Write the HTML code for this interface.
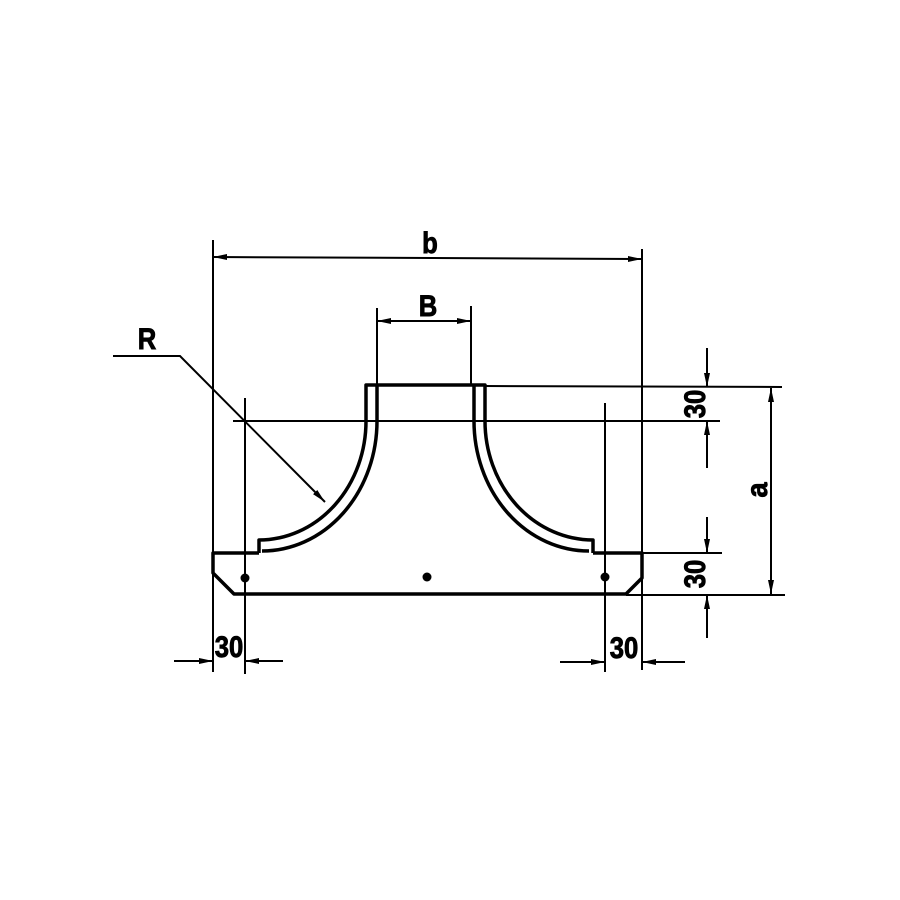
<!DOCTYPE html>
<html><head><meta charset="utf-8"><style>
html,body{margin:0;padding:0;background:#fff;}
svg{display:block}
text{font-family:"Liberation Sans Narrow","Liberation Sans",sans-serif;font-weight:bold;fill:#000;stroke:#000;stroke-width:0.8}
</style></head><body>
<svg width="900" height="900" viewBox="0 0 900 900" xmlns="http://www.w3.org/2000/svg">
<defs>
<marker id="ar" viewBox="0 0 14 6" refX="14" refY="3" markerWidth="14" markerHeight="6" markerUnits="userSpaceOnUse" orient="auto">
<path d="M0,0 L14,3 L0,6 Z" fill="#000"/>
</marker>
</defs>
<g stroke="#000" stroke-width="2" fill="none">
<line x1="213" y1="240" x2="213" y2="672"/>
<line x1="642" y1="249" x2="642" y2="670"/>
<line x1="377" y1="308" x2="377" y2="386"/>
<line x1="471" y1="306" x2="471" y2="386"/>
<line x1="245" y1="398" x2="245" y2="674"/>
<line x1="605" y1="403" x2="605" y2="672"/>
<line x1="233" y1="421" x2="720" y2="421"/>
<line x1="485" y1="386" x2="782" y2="387"/>
<line x1="642" y1="553" x2="722" y2="553"/>
<line x1="626" y1="595" x2="785" y2="595"/>
<line x1="213" y1="257" x2="642" y2="259"/>
<line x1="377" y1="321" x2="471" y2="321"/>
<line x1="771" y1="388" x2="771" y2="594"/>
<line x1="707" y1="348" x2="707" y2="387" marker-end="url(#ar)"/>
<line x1="707" y1="468" x2="707" y2="421" marker-end="url(#ar)"/>
<line x1="707" y1="517" x2="707" y2="553" marker-end="url(#ar)"/>
<line x1="707" y1="638" x2="707" y2="595" marker-end="url(#ar)"/>
<line x1="174" y1="661" x2="213" y2="661" marker-end="url(#ar)"/>
<line x1="283" y1="661" x2="245" y2="661" marker-end="url(#ar)"/>
<line x1="560" y1="662" x2="605" y2="662" marker-end="url(#ar)"/>
<line x1="685" y1="662" x2="642" y2="662" marker-end="url(#ar)"/>
<polyline points="113,356 180,356 325,502" marker-end="url(#ar)"/>
</g>
<g fill="#000">
<path d="M213,257 l14,-3 l0,6z"/>
<path d="M642,259 l-14,-3 l0,6z"/>
<path d="M377,321 l14,-3 l0,6z"/>
<path d="M471,321 l-14,-3 l0,6z"/>
<path d="M771,388 l-3,14 l6,0z"/>
<path d="M771,594 l-3,-14 l6,0z"/>
<circle cx="245" cy="578" r="4.5"/>
<circle cx="427" cy="577" r="4.5"/>
<circle cx="605" cy="577" r="4.5"/>
</g>
<g stroke="#000" stroke-width="3.5" fill="none" stroke-linejoin="round">
<path d="M259,553 L213,553 L213,573 L234,594 L626,594 L642,578 L642,553 L593,553"/>
<path d="M366,421 L366,385 L485,385 L485,421"/>
<line x1="377" y1="386" x2="377" y2="421"/>
<line x1="474" y1="386" x2="474" y2="421"/>
<path d="M366,421 A107,119 0 0 1 259,540 L259,553"/>
<path d="M377,421 A115,130 0 0 1 262,551"/>
<path d="M485,421 A108,119 0 0 0 593,540 L593,553"/>
<path d="M474,421 A115,130 0 0 0 589,551"/>
</g>
<g font-size="27">
<text transform="translate(430,253) scale(0.95,1.1)" text-anchor="middle">b</text>
<text transform="translate(428,316) scale(0.95,1.1)" text-anchor="middle">B</text>
<text transform="translate(147,349) scale(0.95,1.1)" text-anchor="middle">R</text>
<text transform="translate(229,657) scale(0.95,1.1)" text-anchor="middle">30</text>
<text transform="translate(624,658) scale(0.95,1.1)" text-anchor="middle">30</text>
<text transform="translate(705,404) rotate(-90) scale(0.95,1.1)" text-anchor="middle">30</text>
<text transform="translate(705,574) rotate(-90) scale(0.95,1.1)" text-anchor="middle">30</text>
<text transform="translate(767,490) rotate(-90) scale(1,1.1)" text-anchor="middle">a</text>
</g>
</svg>
</body></html>
